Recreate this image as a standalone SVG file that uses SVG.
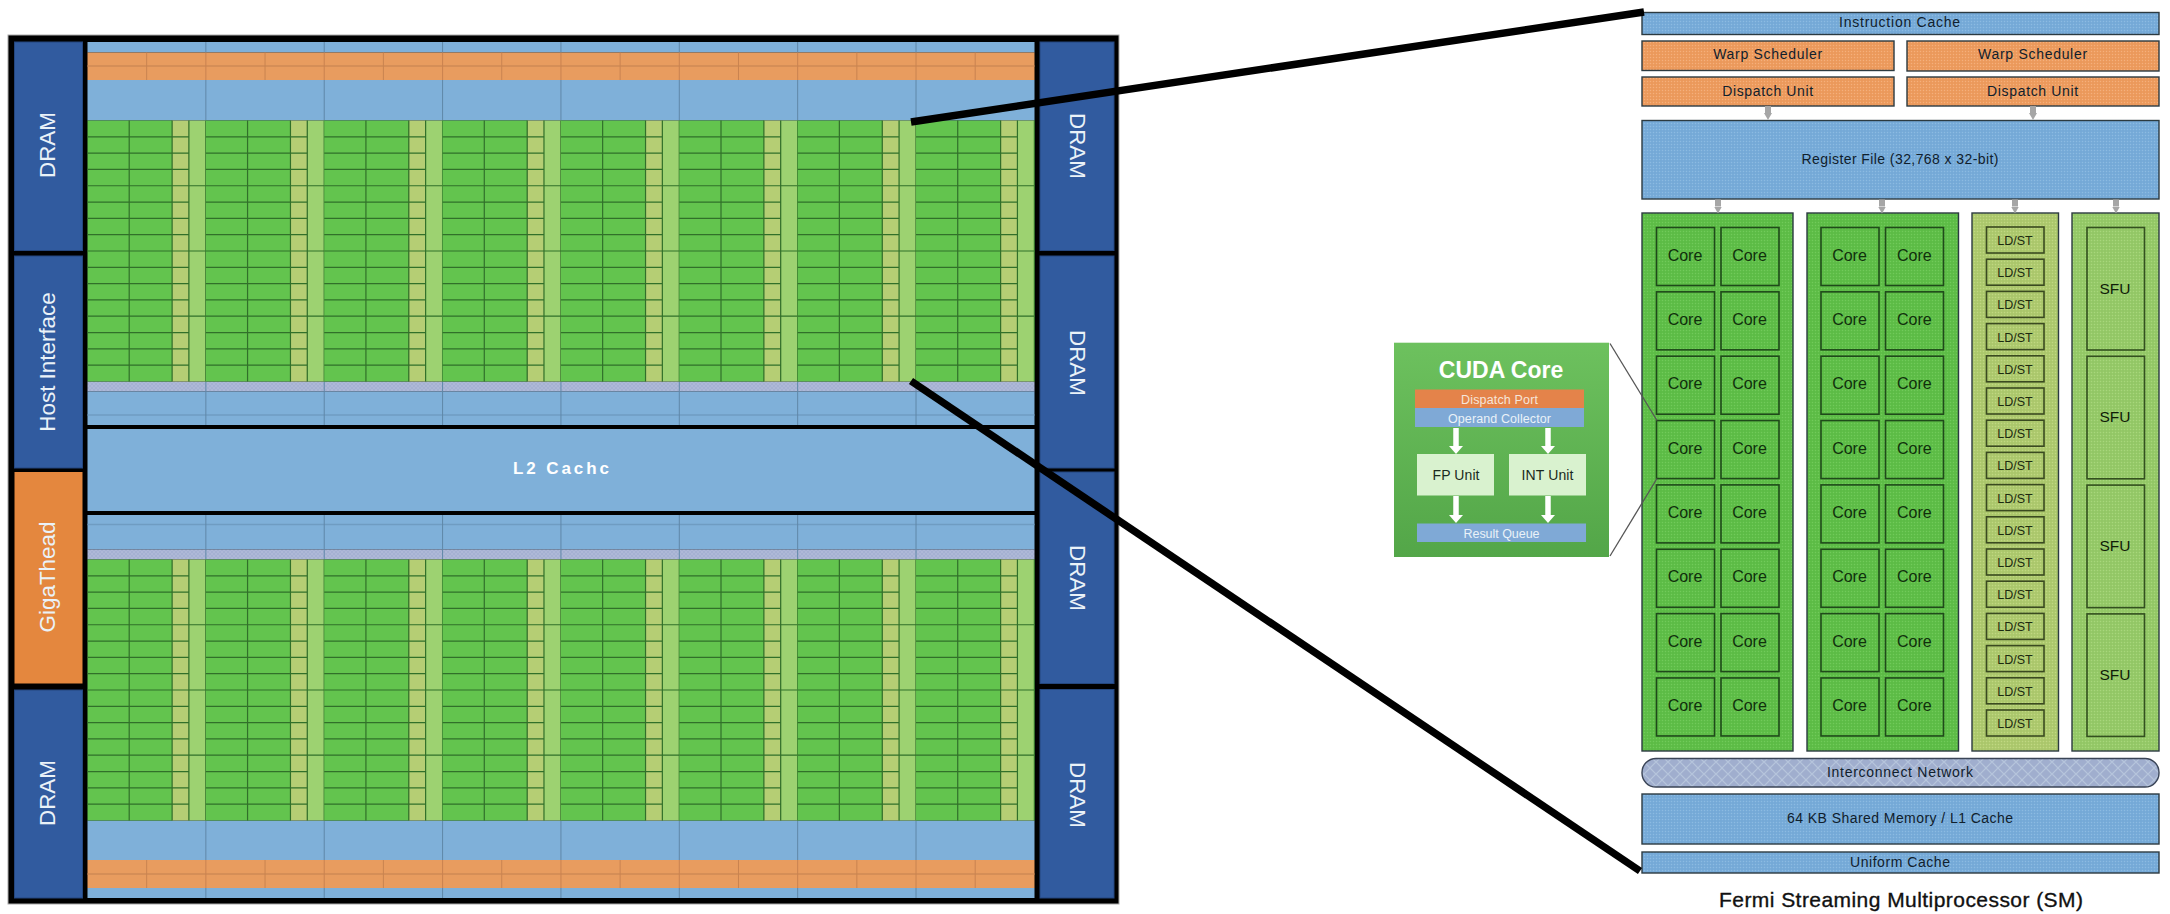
<svg xmlns="http://www.w3.org/2000/svg" xmlns:xlink="http://www.w3.org/1999/xlink" width="2170" height="914" viewBox="0 0 2170 914">
<defs>
<pattern id="pBlue" width="3" height="3" patternUnits="userSpaceOnUse"><rect width="3" height="3" fill="#78ACDA"/><rect width="1" height="1" fill="#8DBBE0"/><rect x="1.5" y="1.5" width="1" height="1" fill="#6C9FCB"/></pattern>
<pattern id="pOrange" width="3" height="3" patternUnits="userSpaceOnUse"><rect width="3" height="3" fill="#EE9C5E"/><rect width="1" height="1" fill="#F3B07E"/><rect x="1.5" y="1.5" width="1" height="1" fill="#DE9055"/></pattern>
<pattern id="pGreen" width="3" height="3" patternUnits="userSpaceOnUse"><rect width="3" height="3" fill="#5FBF48"/><rect width="1" height="1" fill="#72C95C"/><rect x="1.5" y="1.5" width="1" height="1" fill="#54AE40"/></pattern>
<pattern id="pLd" width="3" height="3" patternUnits="userSpaceOnUse"><rect width="3" height="3" fill="#AFCB6E"/><rect width="1" height="1" fill="#C0D685"/><rect x="1.5" y="1.5" width="1" height="1" fill="#9DBA64"/></pattern>
<pattern id="pSfu" width="3" height="3" patternUnits="userSpaceOnUse"><rect width="3" height="3" fill="#96CB68"/><rect width="1" height="1" fill="#A8D57E"/><rect x="1.5" y="1.5" width="1" height="1" fill="#88BA5E"/></pattern>
<pattern id="pNet" width="12" height="12" patternUnits="userSpaceOnUse"><rect width="12" height="12" fill="#A0AECE"/><path d="M0 6L6 0L12 6L6 12Z" fill="none" stroke="#B6C5DC" stroke-width="1.2"/></pattern>
<pattern id="pNetChip" width="4" height="4" patternUnits="userSpaceOnUse"><rect width="4" height="4" fill="#A5B1D2"/><path d="M0 2L2 0L4 2L2 4Z" fill="none" stroke="#B3BEDA" stroke-width=".6"/></pattern>
<linearGradient id="gCuda" x1="0" y1="0" x2="0" y2="1"><stop offset="0" stop-color="#6DC15E"/><stop offset="1" stop-color="#53A648"/></linearGradient>
<marker id="mGray" markerUnits="userSpaceOnUse" markerWidth="20" markerHeight="8" refX="0" refY="4" orient="auto"><path d="M0 0V8L7 4Z" fill="#A6A6A6" transform="scale(1)"/></marker>
<g id="gpuSection">
<rect x="0" y="0" width="84.6" height="261" fill="#63C44E"/>
<rect x="84.6" y="0" width="16.8" height="261" fill="#B5CE74"/>
<rect x="101.4" y="0" width="16.96" height="261" fill="#9DD271"/>
<path d="M0 16.31H101.4M0 32.62H101.4M0 48.93H101.4M0 65.24H118.36M0 81.55H101.4M0 97.86H101.4M0 114.17H101.4M0 130.48H118.36M0 146.79H101.4M0 163.1H101.4M0 179.41H101.4M0 195.72H118.36M0 212.03H101.4M0 228.34H101.4M0 244.65H101.4M41.7 0V261M84.6 0V261M101.4 0V261M118.36 0V261" fill="none" stroke="#31702A" stroke-width="1.2"/>
</g>
</defs>
<style>
text{font-family:"Liberation Sans",Arial,sans-serif;text-anchor:middle}
.w{fill:#fff}
.chipW{fill:#EAF2F8;font-size:22.4px}
.d{fill:#10202c;font-size:14px}
.core{fill:#10300c;font-size:16px}
.ld{fill:#1c2a10;font-size:12.5px}
.sfu{fill:#101c08;font-size:15.5px}
.b{stroke:#2c3a40;stroke-width:1.4}
.blue{fill:url(#pBlue)}
.org{fill:url(#pOrange)}
.grn{fill:url(#pGreen)}
.ldf{fill:url(#pLd)}
.sf{fill:url(#pSfu)}
.cell{fill:url(#pGreen);stroke:#1f4a1a;stroke-width:1.6}
.ldc{fill:url(#pLd);stroke:#3a4a20;stroke-width:1.6}
.sfc{fill:url(#pSfu);stroke:#33501f;stroke-width:1.6}
.chipBlue{fill:#7FB0D9}
.chipOrg{fill:#E89C5F}
.sec{stroke:#5f87a8;stroke-width:1;fill:none}
.secO{stroke:#C98350;stroke-width:1;fill:none}
.dram{fill:#315B9F;stroke:#24477f;stroke-width:1}
.gray{stroke:#A6A6A6;stroke-width:6;fill:none;marker-end:url(#mGray)}
.thick{stroke:#000;stroke-width:7.5;fill:none}
.thin{stroke:#555;stroke-width:1.3;fill:none}
.wa{stroke:#fff;stroke-width:5.5;fill:none}
</style>
<rect width="2170" height="914" fill="#fff"/>

<g id="chip">
<rect x="8" y="35" width="1111" height="869" fill="#000" stroke="#aaa" stroke-width="1"/>
<rect x="87.5" y="42" width="947" height="10.5" class="chipBlue"/>
<rect x="87.5" y="52.5" width="947" height="27.5" class="chipOrg"/>
<path d="M87.5 66H1034.5" stroke="#CF8A55" stroke-width="1.5" fill="none"/>
<rect x="87.5" y="80" width="947" height="40.5" class="chipBlue"/>
<rect x="87.5" y="381.5" width="947" height="10" fill="url(#pNetChip)"/>
<rect x="87.5" y="391.5" width="947" height="33.5" class="chipBlue"/>
<path d="M87.5 415H1034.5" stroke="#6F9CC2" stroke-width="1.5" fill="none"/>
<rect x="87.5" y="515" width="947" height="34.5" class="chipBlue"/>
<path d="M87.5 524.5H1034.5" stroke="#6F9CC2" stroke-width="1.5" fill="none"/>
<rect x="87.5" y="549.5" width="947" height="10" fill="url(#pNetChip)"/>
<rect x="87.5" y="820.5" width="947" height="39.5" class="chipBlue"/>
<rect x="87.5" y="860" width="947" height="28" class="chipOrg"/>
<path d="M87.5 874H1034.5" stroke="#CF8A55" stroke-width="1.5" fill="none"/>
<rect x="87.5" y="888" width="947" height="10" class="chipBlue"/>
<path class="sec" d="M205.86 42V52.5M324.22 42V52.5M442.58 42V52.5M560.94 42V52.5M679.3 42V52.5M797.66 42V52.5M916.02 42V52.5M205.86 80V120.5M324.22 80V120.5M442.58 80V120.5M560.94 80V120.5M679.3 80V120.5M797.66 80V120.5M916.02 80V120.5M205.86 381.5V425M324.22 381.5V425M442.58 381.5V425M560.94 381.5V425M679.3 381.5V425M797.66 381.5V425M916.02 381.5V425M205.86 515V559.5M324.22 515V559.5M442.58 515V559.5M560.94 515V559.5M679.3 515V559.5M797.66 515V559.5M916.02 515V559.5M205.86 820.5V860M324.22 820.5V860M442.58 820.5V860M560.94 820.5V860M679.3 820.5V860M797.66 820.5V860M916.02 820.5V860M205.86 888V898M324.22 888V898M442.58 888V898M560.94 888V898M679.3 888V898M797.66 888V898M916.02 888V898"/>
<path class="secO" d="M146.68 52.5V80M205.86 52.5V80M265.04 52.5V80M324.22 52.5V80M383.4 52.5V80M442.58 52.5V80M501.76 52.5V80M560.94 52.5V80M620.12 52.5V80M679.3 52.5V80M738.48 52.5V80M797.66 52.5V80M856.84 52.5V80M916.02 52.5V80M975.2 52.5V80M146.68 860V888M205.86 860V888M265.04 860V888M324.22 860V888M383.4 860V888M442.58 860V888M501.76 860V888M560.94 860V888M620.12 860V888M679.3 860V888M738.48 860V888M797.66 860V888M856.84 860V888M916.02 860V888M975.2 860V888"/>
<use xlink:href="#gpuSection" href="#gpuSection" x="87.5" y="120.5"/>
<use xlink:href="#gpuSection" href="#gpuSection" x="205.86" y="120.5"/>
<use xlink:href="#gpuSection" href="#gpuSection" x="324.22" y="120.5"/>
<use xlink:href="#gpuSection" href="#gpuSection" x="442.58" y="120.5"/>
<use xlink:href="#gpuSection" href="#gpuSection" x="560.94" y="120.5"/>
<use xlink:href="#gpuSection" href="#gpuSection" x="679.3" y="120.5"/>
<use xlink:href="#gpuSection" href="#gpuSection" x="797.66" y="120.5"/>
<use xlink:href="#gpuSection" href="#gpuSection" x="916.02" y="120.5"/>
<use xlink:href="#gpuSection" href="#gpuSection" x="87.5" y="559.5"/>
<use xlink:href="#gpuSection" href="#gpuSection" x="205.86" y="559.5"/>
<use xlink:href="#gpuSection" href="#gpuSection" x="324.22" y="559.5"/>
<use xlink:href="#gpuSection" href="#gpuSection" x="442.58" y="559.5"/>
<use xlink:href="#gpuSection" href="#gpuSection" x="560.94" y="559.5"/>
<use xlink:href="#gpuSection" href="#gpuSection" x="679.3" y="559.5"/>
<use xlink:href="#gpuSection" href="#gpuSection" x="797.66" y="559.5"/>
<use xlink:href="#gpuSection" href="#gpuSection" x="916.02" y="559.5"/>
</g>
<g id="l2-cache"><rect x="87.5" y="429" width="947" height="82" class="chipBlue"/><text x="561" y="474" class="w" font-size="17" font-weight="bold" textLength="96">L2 Cachc</text></g>
<g id="dram-left-top"><rect x="14.5" y="42" width="68" height="208.5" class="dram"/><text transform="translate(55 145) rotate(-90)" class="chipW">DRAM</text></g>
<g id="host-interface"><rect x="14.5" y="256" width="68" height="212" class="dram"/><text transform="translate(55 362) rotate(-90)" class="chipW">Host Interface</text></g>
<g id="gigathead"><rect x="14.5" y="472" width="68" height="211.5" fill="#E4873E"/><text transform="translate(55 577) rotate(-90)" class="chipW">GigaThead</text></g>
<g id="dram-left-bottom"><rect x="14.5" y="690" width="68" height="208" class="dram"/><text transform="translate(55 793) rotate(-90)" class="chipW">DRAM</text></g>
<g id="dram-right-1"><rect x="1040" y="42" width="74" height="208.5" class="dram"/><text transform="translate(1070 146) rotate(90)" class="chipW">DRAM</text></g>
<g id="dram-right-2"><rect x="1040" y="256" width="74" height="212" class="dram"/><text transform="translate(1070 363) rotate(90)" class="chipW">DRAM</text></g>
<g id="dram-right-3"><rect x="1040" y="472" width="74" height="211.5" class="dram"/><text transform="translate(1070 578) rotate(90)" class="chipW">DRAM</text></g>
<g id="dram-right-4"><rect x="1040" y="689.5" width="74" height="208.5" class="dram"/><text transform="translate(1070 795) rotate(90)" class="chipW">DRAM</text></g>

<g id="instruction-cache"><rect x="1642" y="12.5" width="517" height="22" class="blue b"/><text x="1899.6" y="27" class="d" textLength="121">Instruction Cache</text></g>
<g id="warp-scheduler-1"><rect x="1642" y="41" width="252" height="29.5" class="org b"/><text x="1767.7" y="59" class="d" textLength="109">Warp Scheduler</text></g>
<g id="warp-scheduler-2"><rect x="1907" y="41" width="252" height="30" class="org b"/><text x="2032.6" y="59" class="d" textLength="109">Warp Scheduler</text></g>
<g id="dispatch-unit-1"><rect x="1642" y="77" width="252" height="29" class="org b"/><text x="1767.7" y="95.5" class="d" textLength="91">Dispatch Unit</text></g>
<g id="dispatch-unit-2"><rect x="1907" y="77" width="252" height="29" class="org b"/><text x="2032.6" y="95.5" class="d" textLength="91">Dispatch Unit</text></g>
<g id="register-file"><rect x="1642" y="120.5" width="517" height="78.5" class="blue b"/><text x="1900" y="163.5" class="d" font-size="14" textLength="197">Register File (32,768 x 32-bit)</text></g>

<g id="core-panel-1"><rect x="1642" y="213" width="151" height="538" class="grn b"/>
<rect x="1656.5" y="227.5" width="58" height="58" class="cell"/><rect x="1721" y="227.5" width="58" height="58" class="cell"/>
<rect x="1656.5" y="291.85" width="58" height="58" class="cell"/><rect x="1721" y="291.85" width="58" height="58" class="cell"/>
<rect x="1656.5" y="356.2" width="58" height="58" class="cell"/><rect x="1721" y="356.2" width="58" height="58" class="cell"/>
<rect x="1656.5" y="420.55" width="58" height="58" class="cell"/><rect x="1721" y="420.55" width="58" height="58" class="cell"/>
<rect x="1656.5" y="484.9" width="58" height="58" class="cell"/><rect x="1721" y="484.9" width="58" height="58" class="cell"/>
<rect x="1656.5" y="549.25" width="58" height="58" class="cell"/><rect x="1721" y="549.25" width="58" height="58" class="cell"/>
<rect x="1656.5" y="613.6" width="58" height="58" class="cell"/><rect x="1721" y="613.6" width="58" height="58" class="cell"/>
<rect x="1656.5" y="677.95" width="58" height="58" class="cell"/><rect x="1721" y="677.95" width="58" height="58" class="cell"/>
<text x="1685" y="260.5" class="core">Core</text><text x="1749.5" y="260.5" class="core">Core</text>
<text x="1685" y="324.85" class="core">Core</text><text x="1749.5" y="324.85" class="core">Core</text>
<text x="1685" y="389.2" class="core">Core</text><text x="1749.5" y="389.2" class="core">Core</text>
<text x="1685" y="453.55" class="core">Core</text><text x="1749.5" y="453.55" class="core">Core</text>
<text x="1685" y="517.9" class="core">Core</text><text x="1749.5" y="517.9" class="core">Core</text>
<text x="1685" y="582.25" class="core">Core</text><text x="1749.5" y="582.25" class="core">Core</text>
<text x="1685" y="646.6" class="core">Core</text><text x="1749.5" y="646.6" class="core">Core</text>
<text x="1685" y="710.95" class="core">Core</text><text x="1749.5" y="710.95" class="core">Core</text>
</g>
<g id="core-panel-2"><rect x="1807" y="213" width="151.5" height="538" class="grn b"/>
<rect x="1821" y="227.5" width="58" height="58" class="cell"/><rect x="1885.5" y="227.5" width="58" height="58" class="cell"/>
<rect x="1821" y="291.85" width="58" height="58" class="cell"/><rect x="1885.5" y="291.85" width="58" height="58" class="cell"/>
<rect x="1821" y="356.2" width="58" height="58" class="cell"/><rect x="1885.5" y="356.2" width="58" height="58" class="cell"/>
<rect x="1821" y="420.55" width="58" height="58" class="cell"/><rect x="1885.5" y="420.55" width="58" height="58" class="cell"/>
<rect x="1821" y="484.9" width="58" height="58" class="cell"/><rect x="1885.5" y="484.9" width="58" height="58" class="cell"/>
<rect x="1821" y="549.25" width="58" height="58" class="cell"/><rect x="1885.5" y="549.25" width="58" height="58" class="cell"/>
<rect x="1821" y="613.6" width="58" height="58" class="cell"/><rect x="1885.5" y="613.6" width="58" height="58" class="cell"/>
<rect x="1821" y="677.95" width="58" height="58" class="cell"/><rect x="1885.5" y="677.95" width="58" height="58" class="cell"/>
<text x="1849.5" y="260.5" class="core">Core</text><text x="1914.4" y="260.5" class="core">Core</text>
<text x="1849.5" y="324.85" class="core">Core</text><text x="1914.4" y="324.85" class="core">Core</text>
<text x="1849.5" y="389.2" class="core">Core</text><text x="1914.4" y="389.2" class="core">Core</text>
<text x="1849.5" y="453.55" class="core">Core</text><text x="1914.4" y="453.55" class="core">Core</text>
<text x="1849.5" y="517.9" class="core">Core</text><text x="1914.4" y="517.9" class="core">Core</text>
<text x="1849.5" y="582.25" class="core">Core</text><text x="1914.4" y="582.25" class="core">Core</text>
<text x="1849.5" y="646.6" class="core">Core</text><text x="1914.4" y="646.6" class="core">Core</text>
<text x="1849.5" y="710.95" class="core">Core</text><text x="1914.4" y="710.95" class="core">Core</text>
</g>
<g id="ldst-panel"><rect x="1972" y="213" width="86.5" height="538" class="ldf b"/>
<rect x="1986.5" y="227" width="57.5" height="26" class="ldc"/><text x="2015" y="245" class="ld">LD/ST</text>
<rect x="1986.5" y="259.2" width="57.5" height="26" class="ldc"/><text x="2015" y="277.2" class="ld">LD/ST</text>
<rect x="1986.5" y="291.4" width="57.5" height="26" class="ldc"/><text x="2015" y="309.4" class="ld">LD/ST</text>
<rect x="1986.5" y="323.6" width="57.5" height="26" class="ldc"/><text x="2015" y="341.6" class="ld">LD/ST</text>
<rect x="1986.5" y="355.8" width="57.5" height="26" class="ldc"/><text x="2015" y="373.8" class="ld">LD/ST</text>
<rect x="1986.5" y="388" width="57.5" height="26" class="ldc"/><text x="2015" y="406" class="ld">LD/ST</text>
<rect x="1986.5" y="420.2" width="57.5" height="26" class="ldc"/><text x="2015" y="438.2" class="ld">LD/ST</text>
<rect x="1986.5" y="452.4" width="57.5" height="26" class="ldc"/><text x="2015" y="470.4" class="ld">LD/ST</text>
<rect x="1986.5" y="484.6" width="57.5" height="26" class="ldc"/><text x="2015" y="502.6" class="ld">LD/ST</text>
<rect x="1986.5" y="516.8" width="57.5" height="26" class="ldc"/><text x="2015" y="534.8" class="ld">LD/ST</text>
<rect x="1986.5" y="549" width="57.5" height="26" class="ldc"/><text x="2015" y="567" class="ld">LD/ST</text>
<rect x="1986.5" y="581.2" width="57.5" height="26" class="ldc"/><text x="2015" y="599.2" class="ld">LD/ST</text>
<rect x="1986.5" y="613.4" width="57.5" height="26" class="ldc"/><text x="2015" y="631.4" class="ld">LD/ST</text>
<rect x="1986.5" y="645.6" width="57.5" height="26" class="ldc"/><text x="2015" y="663.6" class="ld">LD/ST</text>
<rect x="1986.5" y="677.8" width="57.5" height="26" class="ldc"/><text x="2015" y="695.8" class="ld">LD/ST</text>
<rect x="1986.5" y="710" width="57.5" height="26" class="ldc"/><text x="2015" y="728" class="ld">LD/ST</text>
</g>
<g id="sfu-panel"><rect x="2072" y="213" width="87" height="538" class="sf b"/>
<rect x="2087" y="227.5" width="57.5" height="122.5" class="sfc"/><text x="2115" y="293.5" class="sfu">SFU</text>
<rect x="2087" y="356.3" width="57.5" height="122.5" class="sfc"/><text x="2115" y="422.3" class="sfu">SFU</text>
<rect x="2087" y="485.1" width="57.5" height="122.5" class="sfc"/><text x="2115" y="551.1" class="sfu">SFU</text>
<rect x="2087" y="613.9" width="57.5" height="122.5" class="sfc"/><text x="2115" y="679.9" class="sfu">SFU</text>
</g>
<g id="interconnect-network"><rect x="1642" y="758.5" width="517" height="28.5" rx="14" ry="14" fill="url(#pNet)" stroke="#3a4456" stroke-width="1.4"/><text x="1900" y="776.7" class="d" textLength="146">Interconnect Network</text></g>
<g id="shared-memory"><rect x="1642" y="794" width="517" height="50" class="blue b"/><text x="1900" y="823" class="d" textLength="226">64 KB Shared Memory / L1 Cache</text></g>
<g id="uniform-cache"><rect x="1642" y="852" width="517" height="21" class="blue b"/><text x="1900" y="867" class="d" textLength="100">Uniform Cache</text></g>
<text id="sm-title" x="1901" y="906.5" fill="#111" font-size="21" stroke="#111" stroke-width=".35" textLength="364">Fermi Streaming Multiprocessor (SM)</text>

<g id="cuda-core"><rect x="1394" y="342.7" width="215" height="214.3" fill="url(#gCuda)"/>
<text x="1501" y="378" class="w" font-size="23" font-weight="bold">CUDA Core</text>
<rect x="1415" y="389.5" width="169" height="18.5" fill="#E4834A"/><text x="1499.5" y="403.5" fill="#F6E6DA" font-size="12.5" textLength="77">Dispatch Port</text>
<rect x="1415" y="408" width="169" height="19" fill="#7FA9D6"/><text x="1499.5" y="422.5" fill="#EAF2F8" font-size="12.5" textLength="103">Operand Collector</text>
<rect x="1417" y="454" width="77" height="41.5" fill="#D9F2CF"/><text x="1456" y="480" fill="#1a2a20" font-size="14" textLength="47">FP Unit</text>
<rect x="1509" y="454" width="77" height="41.5" fill="#D9F2CF"/><text x="1547.5" y="480" fill="#1a2a20" font-size="14" textLength="52">INT Unit</text>
<rect x="1417" y="523.5" width="169" height="18.5" fill="#7FA9D6"/><text x="1501.5" y="537.5" fill="#EAF2F8" font-size="12.5" textLength="76">Result Queue</text>
</g>

<g id="connectors">
<path class="gray" d="M1768 106V113"/>
<path class="gray" d="M2033 106V113"/>
<path class="gray" d="M1718 199.5V206.5"/>
<path class="gray" d="M1882 199.5V206.5"/>
<path class="gray" d="M2015 199.5V206.5"/>
<path class="gray" d="M2116 199.5V206.5"/>
<path class="wa" d="M1456 428V447"/><path d="M1449 446H1463L1456 454Z" fill="#fff"/>
<path class="wa" d="M1548 428V447"/><path d="M1541 446H1555L1548 454Z" fill="#fff"/>
<path class="wa" d="M1456 496V516"/><path d="M1449 515H1463L1456 523Z" fill="#fff"/>
<path class="wa" d="M1548 496V516"/><path d="M1541 515H1555L1548 523Z" fill="#fff"/>
<path class="thin" d="M1610 343.5L1657 420.5"/>
<path class="thin" d="M1610 556L1657 478.5"/>
<path class="thick" d="M911 122L1644 12"/>
<path class="thick" d="M911 381L1640 871"/>
</g>
</svg>
